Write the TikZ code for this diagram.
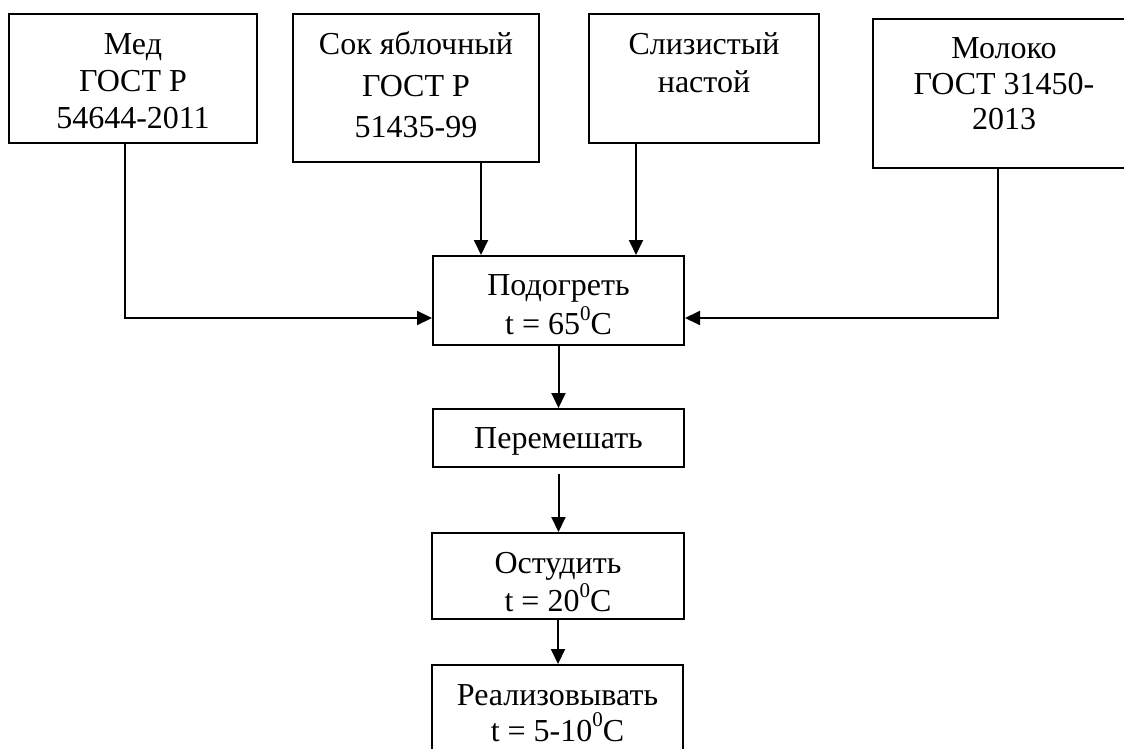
\documentclass[tikz,border=0pt]{standalone}
\usepackage{fontspec}
\setmainfont{Liberation Serif}
\usetikzlibrary{arrows.meta}

% one column of centred lines whose baseline is that of the first line
\newcommand{\stacklines}[1]{\begin{tabular}[t]{@{}c@{}}#1\end{tabular}}
% raised zero used as the degree mark
\newcommand{\supzero}{\raisebox{0.45em}{\fontsize{21}{21}\selectfont 0}}

\tikzset{
  box/.style={draw, rectangle, line width=2pt, inner sep=0pt},
  lbl/.style={anchor=base, inner sep=0pt, font=\fontsize{32}{37}\selectfont},
  flow/.style={line width=2pt, -{Triangle[length=15pt,width=14pt]}},
}

\begin{document}
\begin{tikzpicture}[x=1pt,y=-1pt]
\clip (0,0) rectangle (1124,749);

% ingredient boxes
\node[box, minimum width=248pt, minimum height=129pt] (med)  at (133,78.5) {};
\node[box, minimum width=246pt, minimum height=148pt] (sok)  at (416,88)   {};
\node[box, minimum width=230pt, minimum height=129pt] (sliz) at (704,78.5) {};
\node[box, minimum width=262pt, minimum height=149pt] (mol)  at (1004,93.5) {};

\node[lbl] (med-t)  at (133,55)  {\stacklines{Мед\\ГОСТ Р\\54644-2011}};
\node[lbl, font=\fontsize{32}{41.5}\selectfont] (sok-t) at (416,55)
  {\stacklines{Сок яблочный\\ГОСТ Р\\51435-99}};
\node[lbl, font=\fontsize{32}{38}\selectfont] (sliz-t) at (704,55)
  {\stacklines{Слизистый\\настой}};
\node[lbl, font=\fontsize{32}{35.5}\selectfont] (mol-t) at (1004,59)
  {\stacklines{Молоко\\ГОСТ 31450-\\2013}};

% process steps
\node[box, minimum width=251pt, minimum height=89pt] (pod)  at (558.5,300.5) {};
\node[box, minimum width=251pt, minimum height=58pt] (mix)  at (558.5,438)   {};
\node[box, minimum width=252pt, minimum height=86pt] (cool) at (558,576)     {};
\node[box, minimum width=251pt, minimum height=135pt] (sell) at (557.5,732.5) {};

\node[lbl] (pod-t) at (558.5,295) {\stacklines{Подогреть\\t = 65\supzero C}};
\node[lbl] (mix-t) at (558.5,448) {Перемешать};
\node[lbl, font=\fontsize{32}{34}\selectfont] (cool-t) at (558,573)
  {\stacklines{Остудить\\t = 20\supzero C}};
\node[lbl] (sell-t)  at (557.5,705) {Реализовывать};
\node[lbl] (sell-t2) at (557.5,741) {t = 5-10\supzero C};

% connector routing points
\coordinate (cmed)  at (125,318);
\coordinate (cmol)  at (998,318);
\coordinate (csok)  at (481,0);
\coordinate (csliz) at (636,0);

\draw[flow] (med.south -| cmed) -- (cmed) -- (pod.west |- cmed);
\draw[flow] (mol.south -| cmol) -- (cmol) -- (pod.east |- cmol);
\draw[flow] (sok.south -| csok) -- (pod.north -| csok);
\draw[flow] (sliz.south -| csliz) -- (pod.north -| csliz);

\draw[flow] (pod.south) -- (mix.north);
\draw[flow, shorten <=6pt] (mix.south) -- (mix.south |- cool.north);
\draw[flow] (cool.south) -- (cool.south |- sell.north);
\end{tikzpicture}
\end{document}
